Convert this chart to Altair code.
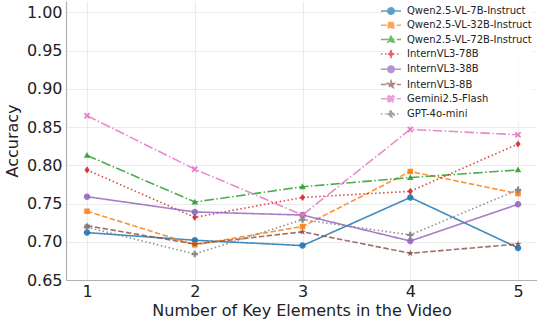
import math
import altair as alt
import pandas as pd

# Accuracy per number of key elements, one list per model
key_elements = [1, 2, 3, 4, 5]
models = [
    "Qwen2.5-VL-7B-Instruct",
    "Qwen2.5-VL-32B-Instruct",
    "Qwen2.5-VL-72B-Instruct",
    "InternVL3-78B",
    "InternVL3-38B",
    "InternVL3-8B",
    "Gemini2.5-Flash",
    "GPT-4o-mini",
]
qwen_7b = [0.712, 0.702, 0.695, 0.758, 0.692]
qwen_32b = [0.740, 0.696, 0.720, 0.792, 0.763]
qwen_72b = [0.813, 0.752, 0.772, 0.784, 0.794]
internvl_78b = [0.794, 0.732, 0.758, 0.766, 0.828]
internvl_38b = [0.759, 0.739, 0.735, 0.701, 0.749]
internvl_8b = [0.721, 0.697, 0.713, 0.685, 0.697]
gemini_flash = [0.865, 0.795, 0.735, 0.847, 0.840]
gpt_4o_mini = [0.719, 0.684, 0.729, 0.709, 0.768]

series = [qwen_7b, qwen_32b, qwen_72b, internvl_78b,
          internvl_38b, internvl_8b, gemini_flash, gpt_4o_mini]

rows = []
for name, vals in zip(models, series):
    for k, v in zip(key_elements, vals):
        rows.append({"model": name, "k": k, "acc": v})
df = pd.DataFrame(rows)

colors = ["#1f77b4", "#ff7f0e", "#2ca02c", "#d62728",
          "#9467bd", "#8c564b", "#e377c2", "#7f7f7f"]
SOLID, DASHED, DASHDOT, DOTTED = [1, 0], [5.5, 2.4], [9.6, 2.4, 1.5, 2.4], [1.5, 2.5]
dashes = [SOLID, DASHED, DASHDOT, DOTTED, SOLID, DASHED, DASHDOT, DOTTED]


def star_path(outer=1.1, inner=0.45):
    pts = []
    for i in range(10):
        r = outer if i % 2 == 0 else inner
        a = -math.pi / 2 + i * math.pi / 5
        pts.append(f"{r * math.cos(a):.3f},{r * math.sin(a):.3f}")
    return "M" + "L".join(pts) + "Z"


markers = [
    "M1,0A1,1 0 1,1 -1,0A1,1 0 1,1 1,0Z",
    "M-0.85,-0.85H0.85V0.85H-0.85Z",
    "M0,-1.05L1,0.75H-1Z",
    "M0,-1.1L0.8,0L0,1.1L-0.8,0Z",
    "M1,0A1,1 0 1,1 -1,0A1,1 0 1,1 1,0Z",
    star_path(),
    "M-1,-0.6L-0.6,-1L0,-0.4L0.6,-1L1,-0.6L0.4,0L1,0.6L0.6,1L0,0.4L-0.6,1L-1,0.6L-0.4,0Z",
    "M-0.35,-1H0.35V-0.35H1V0.35H0.35V1H-0.35V0.35H-1V-0.35H-0.35Z",
]
# legend glyphs: a short line segment through the marker
legend_glyphs = ["M-3.1,0H3.1" + m for m in markers]

FONT = "DejaVu Sans"
MARK_SIZE = 42

x_enc = alt.X("k:Q", scale=alt.Scale(domain=[0.805, 5.176], nice=False, zero=False),
              axis=alt.Axis(values=key_elements, format="d",
                            title="Number of Key Elements in the Video"))
y_enc = alt.Y("acc:Q", scale=alt.Scale(domain=[0.65, 1.015], nice=False, zero=False),
              axis=alt.Axis(values=[0.65, 0.70, 0.75, 0.80, 0.85, 0.90, 0.95, 1.00],
                            format=".2f", title="Accuracy"))

# one line layer and one marker layer per model, in plotting order
series_layers = []
for name, col, dash, glyph in zip(models, colors, dashes, markers):
    base = alt.Chart(df).transform_filter(alt.datum.model == name)
    series_layers.append(
        base.mark_line(strokeWidth=1.6, opacity=0.85, color=col, strokeDash=dash)
        .encode(x=x_enc, y=y_enc)
    )
    series_layers.append(
        base.mark_point(filled=True, size=MARK_SIZE, opacity=0.9, color=col, shape=glyph)
        .encode(x=x_enc, y=y_enc)
    )

legend = alt.Legend(
    title=None, orient="none", legendX=318, legendY=3,
    labelFont=FONT, labelFontSize=10, labelColor="#222",
    symbolSize=MARK_SIZE, symbolStrokeWidth=1.5,
    labelOffset=11, rowPadding=1.3, padding=2,
    fillColor="rgba(255,255,255,0.8)",
)

# key-only layer: scales carry explicit domains, so the legend lists every model
legend_layer = alt.Chart(df).transform_filter("false").mark_point(
    filled=True, size=MARK_SIZE, strokeWidth=1.5
).encode(
    x=x_enc, y=y_enc,
    color=alt.Color("model:N", scale=alt.Scale(domain=models, range=colors), legend=legend),
    stroke=alt.Stroke("model:N", scale=alt.Scale(domain=models, range=colors), legend=legend),
    strokeDash=alt.StrokeDash("model:N", scale=alt.Scale(domain=models, range=dashes),
                              legend=legend),
    shape=alt.Shape("model:N", scale=alt.Scale(domain=models, range=legend_glyphs),
                    legend=legend),
)

chart = alt.layer(*series_layers, legend_layer).properties(
    width=471, height=279,
    autosize=alt.AutoSizeParams(type="none"),
    padding={"left": 66, "top": 1, "right": 0, "bottom": 47},
).configure_view(
    stroke=None
).configure_axis(
    labelFont=FONT, titleFont=FONT, labelFontSize=16, titleFontSize=16,
    labelColor="#222", titleColor="#222", titleFontWeight="normal",
    grid=True, gridColor="#ebebeb", gridWidth=1,
    domainColor="#b0b0b0", domainWidth=1.2, tickSize=0,
).configure_axisY(
    labelPadding=4, titlePadding=6
).configure_axisX(
    labelPadding=3, titlePadding=3
)

chart.save("out.html", embed_options={"renderer": "svg", "actions": False})
